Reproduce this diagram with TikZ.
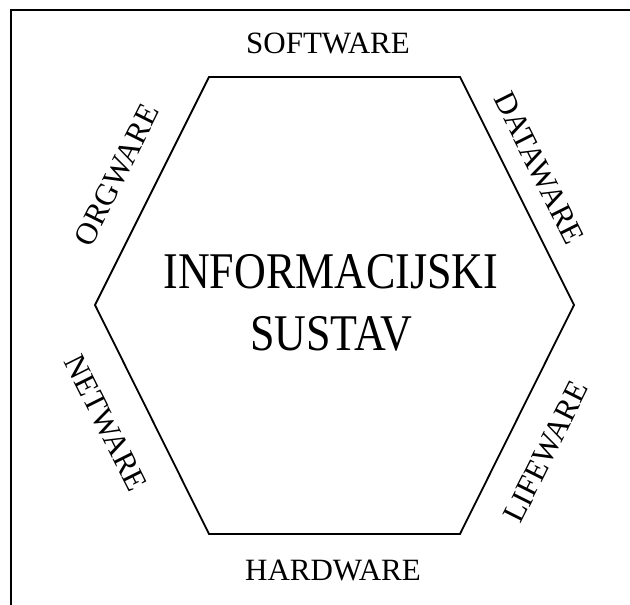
\documentclass[tikz,border=0pt]{standalone}
\usepackage{fontspec}
\setmainfont{Liberation Serif}
\usetikzlibrary{positioning}
\tikzset{
    frame/.style = {line width=1.6pt, draw=black},
    hexa/.style = {line width=1.8pt, draw=black, line join=miter},
    sidelabel/.style = {inner sep=0pt, font=\fontsize{31}{36}\selectfont},
    centrelabel/.style = {inner sep=0pt, align=center, font=\fontsize{44}{53}\selectfont},
}

\begin{document}
\begin{tikzpicture}[x=1pt,y=1pt]
\useasboundingbox (0,0) rectangle (630,605);
\clip (0,0) rectangle (630,605);
\draw[frame] (11,595) rectangle (660,-30);
%
\coordinate (tl) at (209,528);
\coordinate (tr) at (460,528);
\coordinate (r)  at (574,300);
\coordinate (br) at (460,71);
\coordinate (bl) at (209,71);
\coordinate (l)  at (95,300);
\draw[hexa] (tl) -- (tr) -- (r) -- (br) -- (bl) -- (l) -- cycle;
%
\node[sidelabel] (soft) at (328,562) {SOFTWARE};
\node[sidelabel] (hard) at (333,34) {HARDWARE};
\node[sidelabel, rotate=63.4] (org) at (117,430) {ORGWARE};
\node[sidelabel, rotate=-63.4] (data) at (539,437) {DATAWARE};
\node[sidelabel, rotate=-63.4] (net) at (106,182) {NETWARE};
\node[sidelabel, rotate=63.4] (life) at (546,153) {LIFEWARE};
%
\begin{scope}[shift={(331,302)}, yscale=1.17]
\node[centrelabel, transform shape] (is) at (0,0) {INFORMACIJSKI\\SUSTAV};
\end{scope}

\end{tikzpicture}
\end{document}
